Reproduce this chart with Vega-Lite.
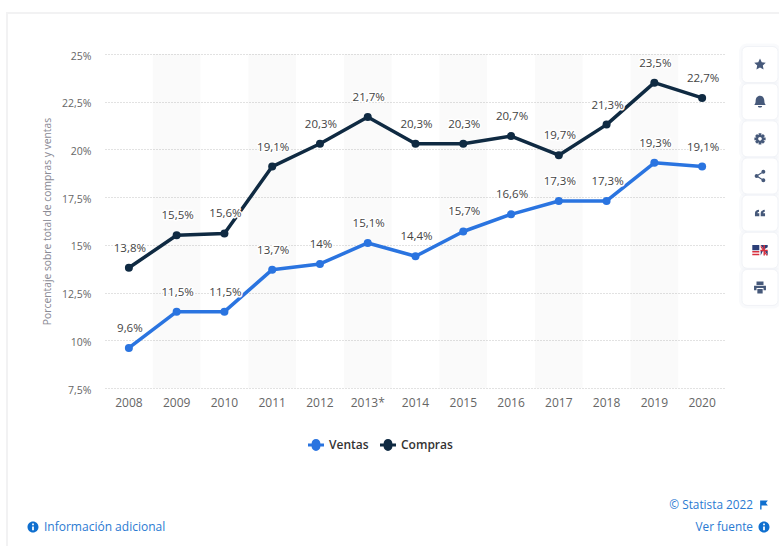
{
  "$schema": "https://vega.github.io/schema/vega-lite/v6.json",
  "width": 621,
  "height": 334,
  "autosize": {"type": "none"},
  "padding": {"left": 105, "top": 54, "right": 53, "bottom": 158},
  "background": "#ffffff",
  "config": {"view": {"stroke": null}, "font": "Open Sans"},
  "datasets": {
    "series": [
      {"ano": "2008", "serie": "Ventas", "pct": 9.6},
      {"ano": "2009", "serie": "Ventas", "pct": 11.5},
      {"ano": "2010", "serie": "Ventas", "pct": 11.5},
      {"ano": "2011", "serie": "Ventas", "pct": 13.7},
      {"ano": "2012", "serie": "Ventas", "pct": 14},
      {"ano": "2013*", "serie": "Ventas", "pct": 15.1},
      {"ano": "2014", "serie": "Ventas", "pct": 14.4},
      {"ano": "2015", "serie": "Ventas", "pct": 15.7},
      {"ano": "2016", "serie": "Ventas", "pct": 16.6},
      {"ano": "2017", "serie": "Ventas", "pct": 17.3},
      {"ano": "2018", "serie": "Ventas", "pct": 17.3},
      {"ano": "2019", "serie": "Ventas", "pct": 19.3},
      {"ano": "2020", "serie": "Ventas", "pct": 19.1},
      {"ano": "2008", "serie": "Compras", "pct": 13.8},
      {"ano": "2009", "serie": "Compras", "pct": 15.5},
      {"ano": "2010", "serie": "Compras", "pct": 15.6},
      {"ano": "2011", "serie": "Compras", "pct": 19.1},
      {"ano": "2012", "serie": "Compras", "pct": 20.3},
      {"ano": "2013*", "serie": "Compras", "pct": 21.7},
      {"ano": "2014", "serie": "Compras", "pct": 20.3},
      {"ano": "2015", "serie": "Compras", "pct": 20.3},
      {"ano": "2016", "serie": "Compras", "pct": 20.7},
      {"ano": "2017", "serie": "Compras", "pct": 19.7},
      {"ano": "2018", "serie": "Compras", "pct": 21.3},
      {"ano": "2019", "serie": "Compras", "pct": 23.5},
      {"ano": "2020", "serie": "Compras", "pct": 22.7}
    ],
    "bandas": [
      {"ano": "2009"}, {"ano": "2011"}, {"ano": "2013*"},
      {"ano": "2015"}, {"ano": "2017"}, {"ano": "2019"}
    ],
    "botones": [
      {"boton": "favorito"}, {"boton": "aviso"}, {"boton": "ajustes"},
      {"boton": "compartir"}, {"boton": "citar"}, {"boton": "idioma"}, {"boton": "imprimir"}
    ],
    "iconos": [
      {"boton": "favorito", "icono": "estrella"},
      {"boton": "aviso", "icono": "campana"},
      {"boton": "ajustes", "icono": "engranaje"},
      {"boton": "compartir", "icono": "nodos"},
      {"boton": "citar", "icono": "comillas"},
      {"boton": "idioma", "icono": "bandera-azul"},
      {"boton": "idioma", "icono": "bandera-roja"},
      {"boton": "imprimir", "icono": "impresora"}
    ],
    "pie": [
      {"col": "izq", "fila": "fuente", "icono": "info", "texto": "Información adicional"},
      {"col": "der", "fila": "fuente", "icono": "info", "texto": "Ver fuente"},
      {"col": "der", "fila": "copyright", "icono": "banderin", "texto": "© Statista 2022"}
    ]
  },
  "layer": [
    {
      "description": "Card outline behind the chart",
      "data": {"values": [{"parte": "tarjeta"}]},
      "mark": {"type": "rect", "fill": null, "stroke": "#f2f2f3", "strokeWidth": 2},
      "encoding": {
        "x": {"datum": 0, "type": "quantitative", "scale": {"domain": [0, 1], "range": [-98, 720]}, "axis": null},
        "x2": {"datum": 1},
        "y": {"datum": 0, "type": "quantitative", "scale": {"domain": [0, 1], "range": [-41, 540]}, "axis": null},
        "y2": {"datum": 1}
      }
    },
    {
      "description": "Plot: alternating year bands, both series and their value labels",
      "encoding": {
        "x": {
          "field": "ano",
          "type": "nominal",
          "sort": null,
          "scale": {
            "type": "band",
            "paddingInner": 0,
            "paddingOuter": 0,
            "domain": ["2008", "2009", "2010", "2011", "2012", "2013*", "2014", "2015", "2016", "2017", "2018", "2019", "2020"]
          },
          "axis": {
            "title": null,
            "labelAngle": 0,
            "labelFontSize": 12,
            "labelColor": "#666666",
            "labelPadding": 9,
            "ticks": false,
            "domain": false,
            "grid": false
          }
        }
      },
      "layer": [
        {
          "data": {"name": "bandas"},
          "mark": {"type": "rect", "fill": "#000000", "opacity": 0.02}
        },
        {
          "data": {"name": "series"},
          "encoding": {
            "y": {
              "field": "pct",
              "type": "quantitative",
              "scale": {"domain": [7.5, 25], "nice": false, "zero": false},
              "axis": {
                "title": "Porcentaje sobre total de compras y ventas",
                "titleFontSize": 10.3,
                "titleFontWeight": "normal",
                "titleColor": "#8a8a94",
                "titlePadding": 20,
                "titleY": 167,
                "titleX": -53,
                "values": [7.5, 10, 12.5, 15, 17.5, 20, 22.5, 25],
                "labelExpr": "replace(toString(datum.value), '.', ',') + '%'",
                "labelFontSize": 10.5,
                "labelColor": "#666666",
                "labelPadding": 14,
                "labelOffset": 2,
                "ticks": false,
                "domain": false,
                "grid": true,
                "gridColor": "#c4c4c4",
                "gridDash": [1, 2],
                "gridWidth": 1
              }
            },
            "color": {
              "field": "serie",
              "type": "nominal",
              "sort": ["Ventas", "Compras"],
              "scale": {"domain": ["Ventas", "Compras"], "range": ["#2a74e0", "#0f2a42"]},
              "legend": {
                "title": null,
                "orient": "none",
                "direction": "horizontal",
                "legendX": 203,
                "legendY": 383,
                "symbolType": "M-1,-0.2 L-0.55,-0.2 A0.55,0.55 0 0 1 0.55,-0.2 L1,-0.2 L1,0.2 L0.55,0.2 A0.55,0.55 0 0 1 -0.55,0.2 L-1,0.2 Z",
                "symbolSize": 256,
                "symbolStrokeWidth": 0,
                "labelFontSize": 12,
                "labelFontWeight": 600,
                "labelColor": "#333333",
                "labelOffset": 5,
                "columnPadding": 11
              }
            },
            "detail": {"field": "serie"}
          },
          "layer": [
            {
              "mark": {"type": "line", "strokeWidth": 3.5, "strokeJoin": "round"}
            },
            {
              "mark": {"type": "point", "filled": true, "opacity": 1},
              "encoding": {
                "size": {"value": 64}
              }
            },
            {
              "transform": [{"calculate": "replace(toString(datum.pct), '.', ',') + '%'", "as": "etiqueta"}],
              "mark": {
                "type": "text",
                "dx": 1,
                "dy": -19,
                "fontSize": 11.5,
                "stroke": "#ffffff",
                "strokeWidth": 3,
                "strokeJoin": "round",
                "fill": "#ffffff"
              },
              "encoding": {
                "text": {"field": "etiqueta"},
                "color": {"value": "#ffffff"}
              }
            },
            {
              "transform": [{"calculate": "replace(toString(datum.pct), '.', ',') + '%'", "as": "etiqueta"}],
              "mark": {"type": "text", "dx": 1, "dy": -19, "fontSize": 11.5},
              "encoding": {
                "text": {"field": "etiqueta"},
                "color": {"value": "#444444"}
              }
            }
          ]
        }
      ]
    },
    {
      "description": "Toolbar of action buttons at the right edge",
      "encoding": {
        "x": {"datum": "barra", "type": "nominal", "scale": {"type": "point", "domain": ["barra"], "range": [655, 655]}, "axis": null},
        "y": {
          "field": "boton",
          "type": "nominal",
          "scale": {
            "type": "point",
            "domain": ["favorito", "aviso", "ajustes", "compartir", "citar", "idioma", "imprimir"],
            "range": [-8, 252]
          },
          "axis": null
        }
      },
      "layer": [
        {
          "data": {"name": "botones"},
          "mark": {"type": "rect", "width": 42, "height": 42, "cornerRadius": 8, "fill": "#eef0f6", "opacity": 0.35}
        },
        {
          "data": {"name": "botones"},
          "mark": {"type": "rect", "width": 36, "height": 36, "cornerRadius": 5, "fill": "#ffffff", "stroke": "#f1f3f7", "strokeWidth": 1}
        },
        {
          "data": {"name": "iconos"},
          "mark": {"type": "point", "filled": true, "opacity": 1, "strokeWidth": 0},
          "encoding": {
            "size": {"value": 196},
            "shape": {
              "field": "icono",
              "type": "nominal",
              "legend": null,
              "scale": {
                "domain": ["estrella", "campana", "engranaje", "nodos", "comillas", "bandera-azul", "bandera-roja", "impresora"],
                "range": [
                  "M0,-0.85 L0.25,-0.32 L0.82,-0.25 L0.4,0.14 L0.51,0.7 L0,0.42 L-0.51,0.7 L-0.4,0.14 L-0.82,-0.25 L-0.25,-0.32 Z",
                  "M0,-0.85 C0.4,-0.85 0.62,-0.5 0.62,-0.12 C0.62,0.22 0.72,0.35 0.82,0.48 L-0.82,0.48 C-0.72,0.35 -0.62,0.22 -0.62,-0.12 C-0.62,-0.5 -0.4,-0.85 0,-0.85 Z M-0.3,0.6 L0.3,0.6 A0.3,0.24 0 0 1 -0.3,0.6 Z",
                  "M-0.6,0 A0.6,0.6 0 1 1 0.6,0 A0.6,0.6 0 1 1 -0.6,0 Z M-0.26,0 A0.26,0.26 0 1 0 0.26,0 A0.26,0.26 0 1 0 -0.26,0 Z M-0.2,-0.8 L0.2,-0.8 L0.2,-0.48 L-0.2,-0.48 Z M0.2,0.8 L-0.2,0.8 L-0.2,0.48 L0.2,0.48 Z M0.8,-0.2 L0.8,0.2 L0.48,0.2 L0.48,-0.2 Z M-0.8,0.2 L-0.8,-0.2 L-0.48,-0.2 L-0.48,0.2 Z M0.42,-0.71 L0.71,-0.42 L0.48,-0.2 L0.2,-0.48 Z M0.71,0.42 L0.42,0.71 L0.2,0.48 L0.48,0.2 Z M-0.42,0.71 L-0.71,0.42 L-0.48,0.2 L-0.2,0.48 Z M-0.71,-0.42 L-0.42,-0.71 L-0.2,-0.48 L-0.48,-0.2 Z",
                  "M0.2,-0.6 A0.28,0.28 0 1 1 0.76,-0.6 A0.28,0.28 0 1 1 0.2,-0.6 Z M0.2,0.6 A0.28,0.28 0 1 1 0.76,0.6 A0.28,0.28 0 1 1 0.2,0.6 Z M-0.76,0 A0.28,0.28 0 1 1 -0.2,0 A0.28,0.28 0 1 1 -0.76,0 Z M-0.52,-0.08 L0.44,-0.68 L0.52,-0.54 L-0.44,0.08 Z M-0.44,-0.08 L0.52,0.54 L0.44,0.68 L-0.52,0.08 Z",
                  "M-0.72,0.45 L-0.72,0 C-0.72,-0.28 -0.5,-0.44 -0.14,-0.48 L-0.14,-0.2 C-0.3,-0.16 -0.36,-0.08 -0.36,0 L-0.1,0 L-0.1,0.45 Z M0.1,0.45 L0.1,0 C0.1,-0.28 0.32,-0.44 0.68,-0.48 L0.68,-0.2 C0.52,-0.16 0.46,-0.08 0.46,0 L0.72,0 L0.72,0.45 Z",
                  "M-1.1,-0.75 L-0.1,-0.75 L-0.1,0 L-1.1,0 Z M0.1,-0.75 L1.1,-0.75 L1.1,-0.45 L0.55,-0.1 L0.1,-0.75 Z M0.1,0.1 L0.4,0.1 L0.1,0.75 Z M1.1,0.75 L0.7,0.1 L1.1,0.1 Z",
                  "M-1.1,0.1 L-0.1,0.1 L-0.1,0.3 L-1.1,0.3 Z M-1.1,0.5 L-0.1,0.5 L-0.1,0.7 L-1.1,0.7 Z M0.05,-0.08 L1.1,-0.08 L1.1,0.12 L0.05,0.12 Z M0.5,-0.75 L0.7,-0.75 L0.7,0.75 L0.5,0.75 Z M0.1,-0.75 L1.1,0.75 L0.9,0.75 L0.1,-0.45 Z",
                  "M-0.5,-0.85 L0.5,-0.85 L0.5,-0.35 L-0.5,-0.35 Z M-0.85,-0.25 L0.85,-0.25 L0.85,0.42 L0.5,0.42 L0.5,0.08 L-0.5,0.08 L-0.5,0.42 L-0.85,0.42 Z M-0.38,0.22 L0.38,0.22 L0.38,0.85 L-0.38,0.85 Z"
                ]
              }
            },
            "color": {
              "field": "icono",
              "type": "nominal",
              "legend": null,
              "scale": {
                "domain": ["estrella", "campana", "engranaje", "nodos", "comillas", "bandera-azul", "bandera-roja", "impresora"],
                "range": ["#46597a", "#46597a", "#46597a", "#46597a", "#46597a", "#2c3f78", "#d8303f", "#46597a"]
              }
            }
          }
        }
      ]
    },
    {
      "description": "Footer links with their icons",
      "data": {"name": "pie"},
      "encoding": {
        "x": {"field": "col", "type": "nominal", "scale": {"type": "point", "domain": ["izq", "der"], "padding": 0, "range": [-72, 659]}, "axis": null},
        "y": {"field": "fila", "type": "nominal", "scale": {"type": "point", "domain": ["copyright", "fuente"], "padding": 0, "range": [451, 473]}, "axis": null}
      },
      "layer": [
        {
          "mark": {"type": "point", "filled": true, "opacity": 1, "strokeWidth": 0, "color": "#0f6fcf"},
          "encoding": {
            "size": {"value": 121},
            "shape": {
              "field": "icono",
              "type": "nominal",
              "legend": null,
              "scale": {
                "domain": ["info", "banderin"],
                "range": [
                  "M-1,0 A1,1 0 1 1 1,0 A1,1 0 1 1 -1,0 Z M-0.16,-0.62 L-0.16,-0.3 L0.16,-0.3 L0.16,-0.62 Z M-0.16,-0.1 L-0.16,0.6 L0.16,0.6 L0.16,-0.1 Z",
                  "M-0.7,-0.8 L0.7,-0.8 L0.35,-0.35 L0.7,0.1 L-0.45,0.1 L-0.45,0.8 L-0.7,0.8 Z"
                ]
              }
            }
          }
        },
        {
          "transform": [{"filter": "datum.col === 'izq'"}],
          "mark": {"type": "text", "align": "left", "dx": 11, "fontSize": 12, "color": "#2a7ad2"},
          "encoding": {"text": {"field": "texto"}}
        },
        {
          "transform": [{"filter": "datum.col === 'der'"}],
          "mark": {"type": "text", "align": "right", "dx": -11, "fontSize": 11.8, "color": "#2a7ad2"},
          "encoding": {"text": {"field": "texto"}}
        }
      ]
    }
  ],
  "resolve": {
    "scale": {"x": "independent", "y": "independent", "color": "independent", "shape": "independent"}
  }
}
